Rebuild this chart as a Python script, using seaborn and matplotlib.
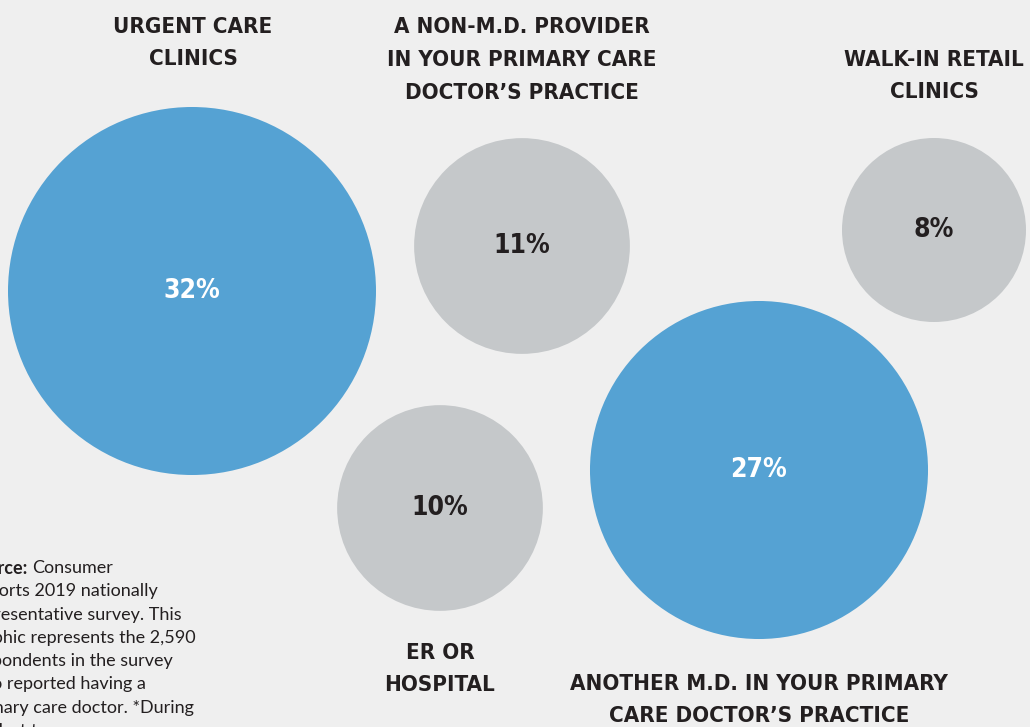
import matplotlib
matplotlib.use("Agg")
import matplotlib.pyplot as plt
from matplotlib import font_manager
from matplotlib.font_manager import FontProperties
import seaborn as sns
import pandas as pd

# ---- data ----
categories = ["Urgent care clinics",
              "A non-M.D. provider in your primary care doctor's practice",
              "Walk-in retail clinics",
              "ER or hospital",
              "Another M.D. in your primary care doctor's practice"]
shares = [32, 11, 8, 10, 27]
value_labels = ["32%", "11%", "8%", "10%", "27%"]
titles = ["URGENT CARE\nCLINICS",
          "A NON-M.D. PROVIDER\nIN YOUR PRIMARY CARE\nDOCTOR\u2019S PRACTICE",
          "WALK-IN RETAIL\nCLINICS",
          "ER OR\nHOSPITAL",
          "ANOTHER M.D. IN YOUR PRIMARY\nCARE DOCTOR\u2019S PRACTICE"]
highlight = ["blue", "gray", "gray", "gray", "blue"]
source_lines = ["Reports 2019 nationally", "representative survey. This",
                "graphic represents the 2,590", "respondents in the survey",
                "who reported having a", "primary care doctor. *During",
                "the last two years."]

# ---- layout (pixel coordinates of bubble centres and titles) ----
bubble_x = [192, 522, 934, 440, 759]
bubble_y = [291, 246, 230, 508, 470]
title_x = [193, 522, 934, 440, 759]
title_y = [43, 60, 76, 669, 700]

W, H, DPI = 1030, 727, 100
BG = "#efefef"
BLUE = "#55a2d3"
GRAY = "#c5c8ca"
DARK = "#231f20"


def _w(f):
    w = f.weight
    if isinstance(w, str):
        w = {"bold": 700, "heavy": 800, "black": 900, "semibold": 600,
             "demibold": 600, "medium": 500, "normal": 400, "regular": 400,
             "book": 400, "light": 300}.get(w.lower(), 400)
    return w


fonts = font_manager.fontManager.ttflist
cond = [f for f in fonts if ("Condensed" in f.name or "Narrow" in f.name
                             or "ondensed" in f.fname or "Narrow" in f.fname)
        and "talic" not in f.fname and f.style == "normal"]
if cond:
    best = max(cond, key=lambda f: (min(_w(f), 700), -abs(_w(f) - 700)))
    title_fp = FontProperties(fname=best.fname)
    title_size = 16
else:
    title_fp = FontProperties(family="Roboto", weight="bold")
    title_size = 14

sns.set_theme(style="white")
plt.rcParams["font.family"] = ["DejaVu Sans"]

fig = plt.figure(figsize=(W / DPI, H / DPI), dpi=DPI, facecolor=BG)
ax = fig.add_axes([0, 0, 1, 1])
ax.set_facecolor(BG)
ax.set_xlim(0, W)
ax.set_ylim(H, 0)

df = pd.DataFrame({"x": bubble_x, "y": bubble_y, "share": shares,
                   "group": highlight, "cat": categories})

# radius of 32% bubble = 184 px -> marker area proportional to share
r_max_pt = 184 * 72 / DPI
s_max = (2 * r_max_pt) ** 2
sns.scatterplot(data=df, x="x", y="y", size="share", sizes=(0, s_max),
                size_norm=(0, 32), hue="group",
                palette={"blue": BLUE, "gray": GRAY},
                linewidth=0, alpha=1, legend=False, ax=ax, zorder=1)

for i in range(len(shares)):
    col = "white" if highlight[i] == "blue" else DARK
    fp = title_fp.copy()
    fp.set_size(19)
    ax.text(bubble_x[i], bubble_y[i], value_labels[i], ha="center", va="center",
            fontproperties=fp, color=col, zorder=3)
    fp2 = title_fp.copy()
    fp2.set_size(title_size)
    ax.text(title_x[i], title_y[i], titles[i], ha="center", va="center",
            fontproperties=fp2, color=DARK, linespacing=1.8, zorder=3)

sfam = ["Lato", "DejaVu Sans"]
y0 = 568
x0 = -32
t1 = ax.text(x0, y0, "Source:", fontsize=13, fontweight="bold", color=DARK,
             va="center", ha="left", family=sfam)
fig.canvas.draw()
bb = t1.get_window_extent().transformed(ax.transData.inverted())
ax.text(bb.x1 + 4, y0, "Consumer", fontsize=13, color=DARK, va="center",
        ha="left", family=sfam)
for k, line in enumerate(source_lines):
    ax.text(x0, y0 + 23.3 * (k + 1), line, fontsize=13, color=DARK,
            va="center", ha="left", family=sfam)

ax.set_axis_off()
fig.savefig("out.png", dpi=DPI, facecolor=BG)
